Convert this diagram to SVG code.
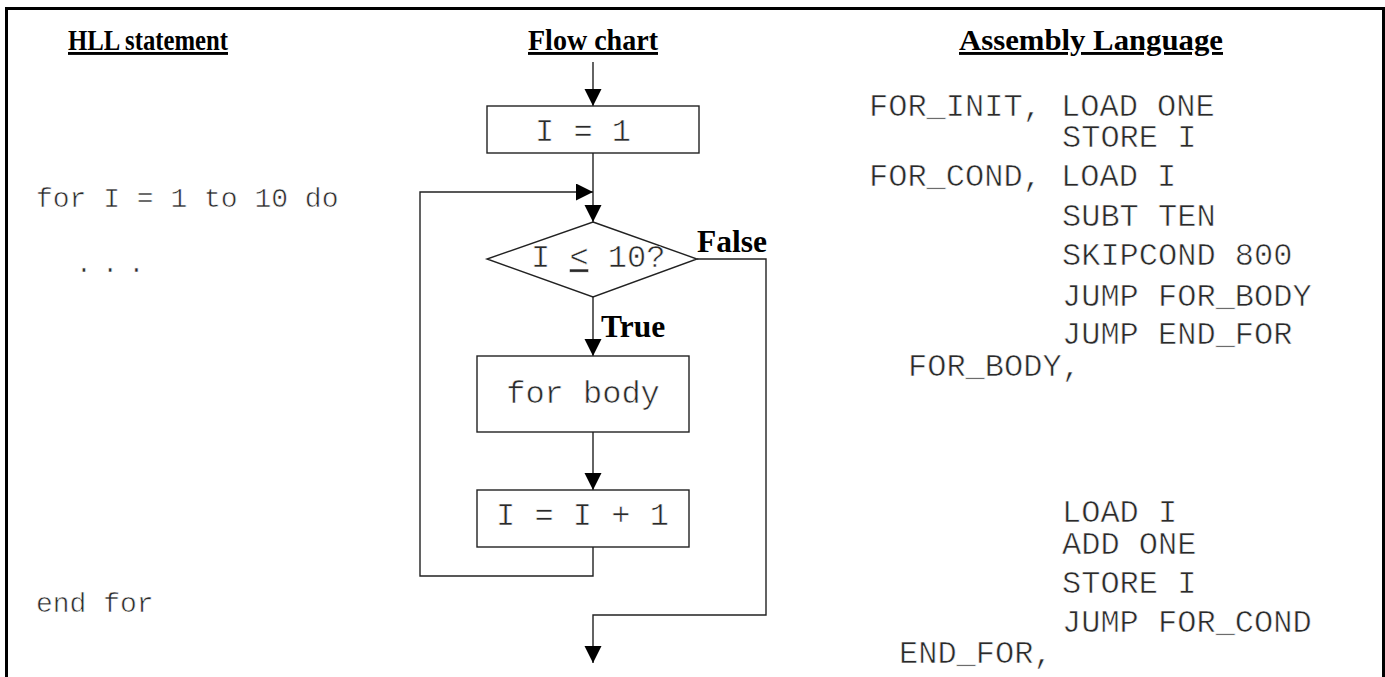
<svg xmlns="http://www.w3.org/2000/svg" width="1385" height="677" viewBox="0 0 1385 677">
  <style>
    .frame { fill: none; stroke: #000; stroke-width: 3; }
    .box { fill: #fff; stroke: #222; stroke-width: 1.4; }
    .wire { fill: none; stroke: #222; stroke-width: 1.4; }
    .head { font-family: "Liberation Serif", "Times New Roman", serif; font-weight: bold; font-size: 29px; text-decoration: underline; fill: #000; }
    .lbl { font-family: "Liberation Serif", "Times New Roman", serif; font-weight: bold; font-size: 31.5px; fill: #000; }
    .code { font-family: "Liberation Mono", "Courier New", monospace; fill: #2a2a2a; stroke: #fff; stroke-width: 0.6; paint-order: fill; }
    .hll { font-size: 28px; }
    .asm { font-size: 32px; }
    .fc { font-size: 32px; }
  </style>
  <defs>
    <marker id="arrow" markerUnits="userSpaceOnUse" markerWidth="18" markerHeight="18" refX="17" refY="8.5" orient="auto">
      <path d="M0,0 L17,8.5 L0,17 z" fill="#000"/>
    </marker>
  </defs>

  <rect width="1385" height="677" fill="#fff"/>
  <!-- outer frame (open at the bottom) -->
  <path class="frame" d="M6.5,677 V8.5 H1383.5 V677"/>

  <!-- column headings -->
  <text class="head" x="68" y="50" textLength="160" lengthAdjust="spacingAndGlyphs">HLL statement</text>
  <text class="head" x="528" y="50" textLength="130" lengthAdjust="spacingAndGlyphs">Flow chart</text>
  <text class="head" x="959" y="50" textLength="264" lengthAdjust="spacingAndGlyphs">Assembly Language</text>

  <!-- high-level source -->
  <g id="hll">
    <text class="code hll" x="36" y="207">for I = 1 to 10 do</text>
    <text class="code hll" x="75.5" y="272" letter-spacing="9.5">...</text>
    <text class="code hll" x="36" y="612">end for</text>
  </g>

  <!-- connectors -->
  <g id="connectors">
    <path class="wire" d="M593,62 V106" marker-end="url(#arrow)"/>
    <path class="wire" d="M593,153 V222" marker-end="url(#arrow)"/>
    <path class="wire" d="M593,547 V576 H420 V192 H593" marker-end="url(#arrow)"/>
    <path class="wire" d="M593,297 V356" marker-end="url(#arrow)"/>
    <path class="wire" d="M593,432 V490" marker-end="url(#arrow)"/>
    <path class="wire" d="M697,259 H766 V615 H593 V663" marker-end="url(#arrow)"/>
    <text class="lbl" x="601" y="337">True</text>
    <text class="lbl" x="697" y="252">False</text>
  </g>

  <!-- flow chart nodes -->
  <g id="init">
    <rect class="box" x="487" y="106" width="212" height="47"/>
    <text class="code fc" x="535" y="141">I = 1</text>
  </g>
  <g id="cond">
    <polygon class="box" points="593,222 697,259 593,297 487,259"/>
    <text class="code fc" x="531" y="267">I <tspan text-decoration="underline">&lt;</tspan> 10?</text>
  </g>
  <g id="body">
    <rect class="box" x="477" y="356" width="212" height="76"/>
    <text class="code fc" x="583" y="403" text-anchor="middle">for body</text>
  </g>
  <g id="incr">
    <rect class="box" x="477" y="490" width="212" height="57"/>
    <text class="code fc" x="496" y="525">I = I + 1</text>
  </g>

  <!-- assembly listing -->
  <g id="asm">
    <text class="code asm" x="869" y="116">FOR_INIT, LOAD ONE</text>
    <text class="code asm" x="1062" y="147">STORE I</text>
    <text class="code asm" x="869" y="186">FOR_COND, LOAD I</text>
    <text class="code asm" x="1062" y="226">SUBT TEN</text>
    <text class="code asm" x="1062" y="265">SKIPCOND 800</text>
    <text class="code asm" x="1062" y="306">JUMP FOR_BODY</text>
    <text class="code asm" x="1062" y="344">JUMP END_FOR</text>
    <text class="code asm" x="908" y="376">FOR_BODY,</text>
    <text class="code asm" x="1062" y="522">LOAD I</text>
    <text class="code asm" x="1062" y="554">ADD ONE</text>
    <text class="code asm" x="1062" y="593">STORE I</text>
    <text class="code asm" x="1062" y="632">JUMP FOR_COND</text>
    <text class="code asm" x="899" y="663">END_FOR,</text>
  </g>
</svg>
